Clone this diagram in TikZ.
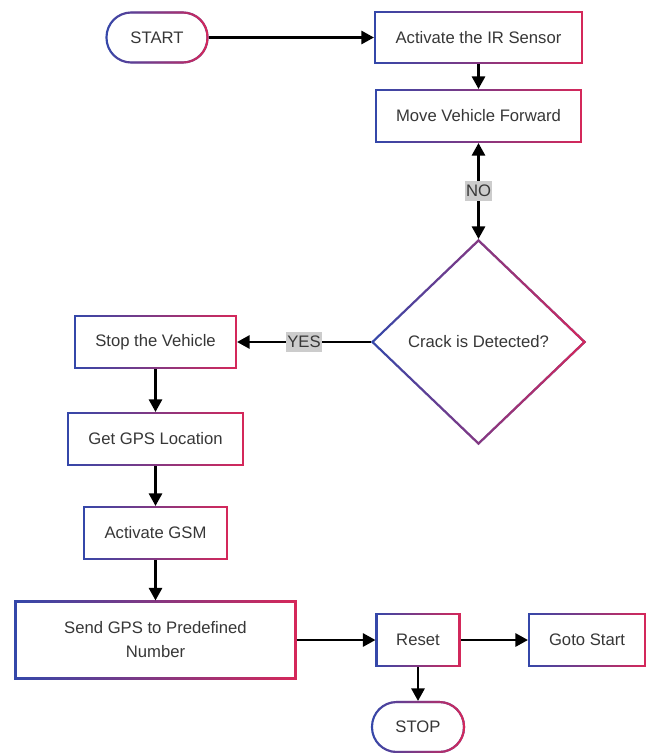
\documentclass[tikz,border=0pt]{standalone}
\usepackage{fontspec}
\setmainfont{Liberation Sans}
\usepackage{tikz}
\usetikzlibrary{arrows.meta,shapes.geometric,fadings}

\definecolor{flowblue}{RGB}{52,72,170}
\definecolor{flowred}{RGB}{214,40,90}
\definecolor{flowtext}{RGB}{55,55,55}
\tikzfading[name=fadetored, left color=transparent!100, right color=transparent!0]

\begin{document}
\begin{tikzpicture}[x=0.75pt,y=0.75pt,yscale=-1,xscale=1,
  flowbox/.style={draw=flowblue, line width=1.6pt, fill=white, text=flowtext,
    font=\fontsize{12.5}{18}\selectfont, align=center, inner sep=0pt,
    postaction={draw=flowred, line width=1.6pt, path fading=fadetored}},
  terminal/.style={flowbox, rounded corners=18.5pt},
  decision/.style={flowbox, diamond},
  arr/.style={line width=1.7pt, -{Triangle[length=9.5pt,width=10pt]}},
  lbl/.style={fill=gray!40, text=flowtext, font=\fontsize{12.5}{14}\selectfont, inner xsep=1pt, inner ysep=3pt}]
\useasboundingbox (0,0) rectangle (651,753);

%Shape: Terminal [START]
\node (start) at (157,37.5) [terminal, minimum width=75.75pt, minimum height=37.5pt] {START};
%Shape: Rectangle [IR sensor]
\node (irsensor) at (478.5,37.5) [flowbox, minimum width=155.25pt, minimum height=38.25pt] {Activate the IR Sensor};
%Shape: Rectangle [move forward]
\node (moveveh) at (478.5,116) [flowbox, minimum width=153.75pt, minimum height=39pt] {Move Vehicle Forward};
%Shape: Diamond [crack check]
\node (crack) at (478.5,342) [decision, minimum width=159.75pt, minimum height=153pt] {Crack is Detected?};
%Shape: Rectangle [stop vehicle]
\node (stopveh) at (155.5,342) [flowbox, minimum width=120.75pt, minimum height=39pt] {Stop the Vehicle};
%Shape: Rectangle [GPS]
\node (getgps) at (155.5,439) [flowbox, minimum width=131.25pt, minimum height=39pt] {Get GPS Location};
%Shape: Rectangle [GSM]
\node (gsm) at (155.5,533) [flowbox, minimum width=107.25pt, minimum height=39pt] {Activate GSM};
%Shape: Rectangle [send]
\node (sendgps) at (155.5,640) [flowbox, minimum width=210pt, minimum height=57.75pt] {Send GPS to Predefined\\Number};
%Shape: Rectangle [reset]
\node (reset) at (418,640) [flowbox, minimum width=62.25pt, minimum height=39pt] {Reset};
%Shape: Rectangle [goto start]
\node (gotostart) at (587,640) [flowbox, minimum width=87pt, minimum height=39pt] {Goto Start};
%Shape: Terminal [STOP]
\node (stop) at (418,727) [terminal, minimum width=69pt, minimum height=37.5pt] {STOP};

%Straight Lines
\draw [arr] (start) -- (irsensor);
\draw [arr] (irsensor) -- (moveveh);
\draw [line width=1.7pt, {Triangle[length=9.5pt,width=10pt]}-{Triangle[length=9.5pt,width=10pt]}] (moveveh.south) -- node [lbl] {NO} (crack.north);
\draw [arr] (crack.west) -- node [lbl] {YES} (stopveh.east);
\draw [arr] (stopveh) -- (getgps);
\draw [arr] (getgps) -- (gsm);
\draw [arr] (gsm) -- (sendgps);
\draw [arr] (sendgps) -- (reset);
\draw [arr] (reset) -- (gotostart);
\draw [arr] (reset) -- (stop);

\end{tikzpicture}
\end{document}
